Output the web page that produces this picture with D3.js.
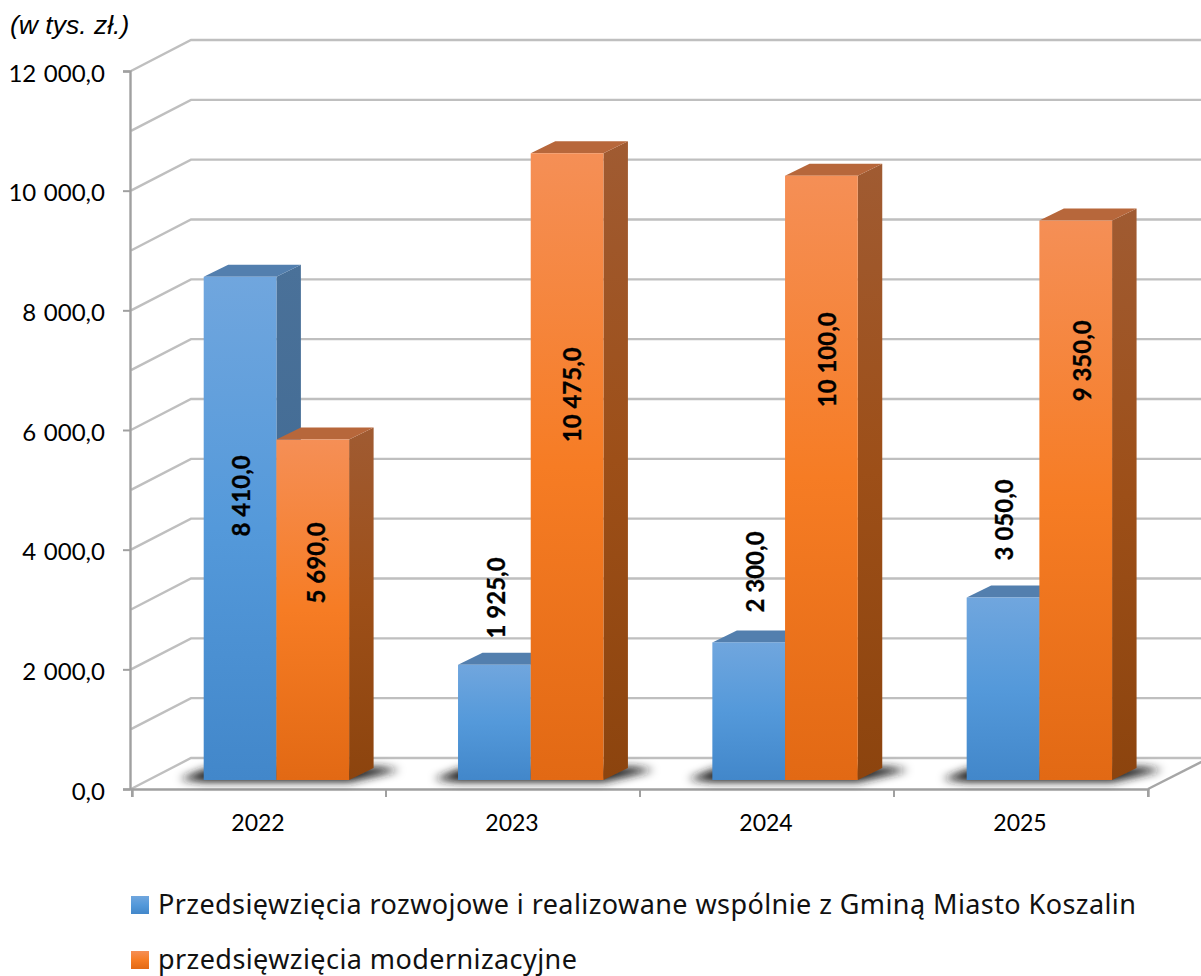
<!DOCTYPE html>
<html><head><meta charset="utf-8">
<script src="https://cdn.jsdelivr.net/npm/d3@7"></script>
<style>
html,body{margin:0;padding:0;background:#fff}
svg{display:block}
text{fill:#000}
</style></head><body>
<svg id="chart" width="1201" height="976"></svg>
<script>
const years = ["2022","2023","2024","2025"];
const seriesNames = ["Przedsięwzięcia rozwojowe i realizowane wspólnie z Gminą Miasto Koszalin","przedsięwzięcia modernizacyjne"];
const rozwojowe = [8410,1925,2300,3050];
const modernizacyjne = [5690,10475,10100,9350];
// value on the axis at which each rotated data label is centred
const rozwojoweLabelAt = [4749,3043,3477,4348];
const modernizacyjneLabelAt = [3629,6438,7023,7006];
const yTicks = [0,2000,4000,6000,8000,10000,12000];
const gridValues = [0,1000,2000,3000,4000,5000,6000,7000,8000,9000,10000,11000,12000];
const unitLabel = "(w tys. zł.)";

const W=1201,H=976;
const loc=d3.formatLocale({decimal:",",thousands:"\u00a0",grouping:[3],currency:["",""]});
const fmt=loc.format(",.1f");

const svg=d3.select("#chart");
const defs=svg.append("defs");
function grad(id,stops){
  const g=defs.append("linearGradient").attr("id",id).attr("x1",0).attr("y1",0).attr("x2",0).attr("y2",1);
  stops.forEach(s=>g.append("stop").attr("offset",s[0]).attr("stop-color",s[1]));
}
grad("bFront",[[0,"#70a6de"],[.5,"#5499da"],[1,"#4287ca"]]);
grad("oFront",[[0,"#f58f56"],[.5,"#f67c24"],[1,"#e26914"]]);
grad("bSide",[[0,"#4a7199"],[1,"#3b6690"]]);
grad("oSide",[[0,"#a05b32"],[.5,"#9d4f18"],[1,"#8c440e"]]);
defs.append("filter").attr("id","blur").attr("x","-20%").attr("y","-100%").attr("width","140%").attr("height","300%")
  .append("feGaussianBlur").attr("stdDeviation",4.5);

// geometry
const y=d3.scaleLinear().domain([0,12000]).range([789,71]);
const x=d3.scaleBand().domain(years).range([132,1148]);
const xBars=d3.scaleBand().domain(years).range([131.7,1149]);
const wallDX=61,wallDY=-31;
const barLift=9,barW=72.7,barOff=72,depthX=24.5,depthY=-12;

// walls: back gridlines + left wall diagonals
const grid=svg.append("g").attr("fill","none").attr("stroke","#bfbfbf").attr("stroke-width",2.4);
grid.selectAll("path").data(gridValues).join("path")
  .attr("d",v=>d3.line()([[131,y(v)],[131+wallDX-1,y(v)+wallDY],[W+2,y(v)+wallDY]]));
// right edge of floor
svg.append("path").attr("fill","none").attr("stroke","#a6a6a6").attr("stroke-width",2.4)
  .attr("d",d3.line()([[x.range()[1],y(0)],[x.range()[1]+wallDX,y(0)+wallDY]]));

// axes
const axL=d3.axisLeft(y).tickValues(yTicks).tickFormat(fmt).tickSize(7).tickPadding(18);
const gL=svg.append("g").attr("transform","translate(130,0)").call(axL);
const axB=d3.axisBottom(x).tickSize(8).tickPadding(18);
const gB=svg.append("g").attr("transform","translate(0,789)").call(axB);
gB.selectAll(".tick line").remove();
gB.selectAll(".tickEdge").data(x.domain().map(d=>x(d)).concat([x.range()[1]])).join("line")
  .attr("class","tickEdge").attr("x1",d=>d).attr("x2",d=>d).attr("y1",0).attr("y2",8);
[gL,gB].forEach(g=>{
  g.selectAll(".domain").attr("stroke","#a0a0a0").attr("stroke-width",2.4);
  g.selectAll("line").attr("stroke","#a0a0a0").attr("stroke-width",2);
  g.selectAll("text").style("font-family","Lato,sans-serif").attr("fill","#000");
});
gL.selectAll("text").attr("dy","0.42em").style("font-size","24px").style("word-spacing","1.5px");
gB.selectAll("text").attr("dx",-1).style("font-size","23px");

// bars
const series=[
 {vals:rozwojowe,labelAt:rozwojoweLabelAt,nudge:[0,1,6,0],front:"url(#bFront)",side:"url(#bSide)",top:"#537fae",off:0},
 {vals:modernizacyjne,labelAt:modernizacyjneLabelAt,nudge:[2.5,4,5,5.5],front:"url(#oFront)",side:"url(#oSide)",top:"#b7673b",off:barW}
];
const base=y(0)-barLift;
const h=v=>y(0)-y(v);
const line=d3.line();

// floor shadows
const shadows=svg.append("g").attr("filter","url(#blur)");
years.forEach(yr=>{
  const x0=xBars(yr)+barOff,x1=x0+2*barW;
  shadows.append("path").attr("fill","#1c1c1c")
    .attr("d",line([[x0-24,base-1],[x0,base+2],[x1,base+2],[x1+depthX+26,base+depthY+2],[x1+depthX+6,base+depthY-1],[x0+depthX,base+depthY],[x0+2,base+depthY+1]])+"Z");
});

const bars=svg.append("g");
series.forEach(s=>{
  years.forEach((yr,i)=>{
    const x0=xBars(yr)+barOff+s.off,x1=x0+barW,t=base-h(s.vals[i]);
    bars.append("path").attr("fill",s.side)
      .attr("d",line([[x1,t],[x1+depthX,t+depthY],[x1+depthX,base+depthY],[x1,base]])+"Z");
    bars.append("path").attr("fill",s.top)
      .attr("d",line([[x0,t],[x0+depthX,t+depthY],[x1+depthX,t+depthY],[x1,t]])+"Z");
    bars.append("rect").attr("x",x0).attr("y",t).attr("width",barW).attr("height",base-t).attr("fill",s.front);
  });
});

// data labels
const labels=svg.append("g");
series.forEach(s=>{
  years.forEach((yr,i)=>{
    const cx=xBars(yr)+barOff+s.off+barW/2+s.nudge[i]+1, cy=base-h(s.labelAt[i]);
    labels.append("text").attr("transform",`translate(${cx},${cy}) rotate(-90)`)
      .attr("text-anchor","middle").attr("dy","0.36em")
      .style("font-family","Lato,sans-serif").style("font-weight",700).style("font-size","24px")
      .style("stroke","#000").style("stroke-width",0.3)
      .text(fmt(s.vals[i]));
  });
});

// unit label
svg.append("text").attr("x",10).attr("y",34)
  .style("font-family","'Liberation Sans',Arial,sans-serif").style("font-style","italic").style("font-size","26.5px")
  .text(unitLabel);

// legend
const legend=svg.append("g");
[["url(#bFront)",896],["url(#oFront)",951]].forEach((d,i)=>{
  legend.append("rect").attr("x",131).attr("y",d[1]).attr("width",18).attr("height",18).attr("fill",d[0]);
  legend.append("text").attr("x",158).attr("y",d[1]+18)
    .style("font-family","'Noto Sans',sans-serif").style("font-size","27px").style("letter-spacing","0.42px").style("fill","#111")
    .text(seriesNames[i]);
});
</script>
</body></html>
